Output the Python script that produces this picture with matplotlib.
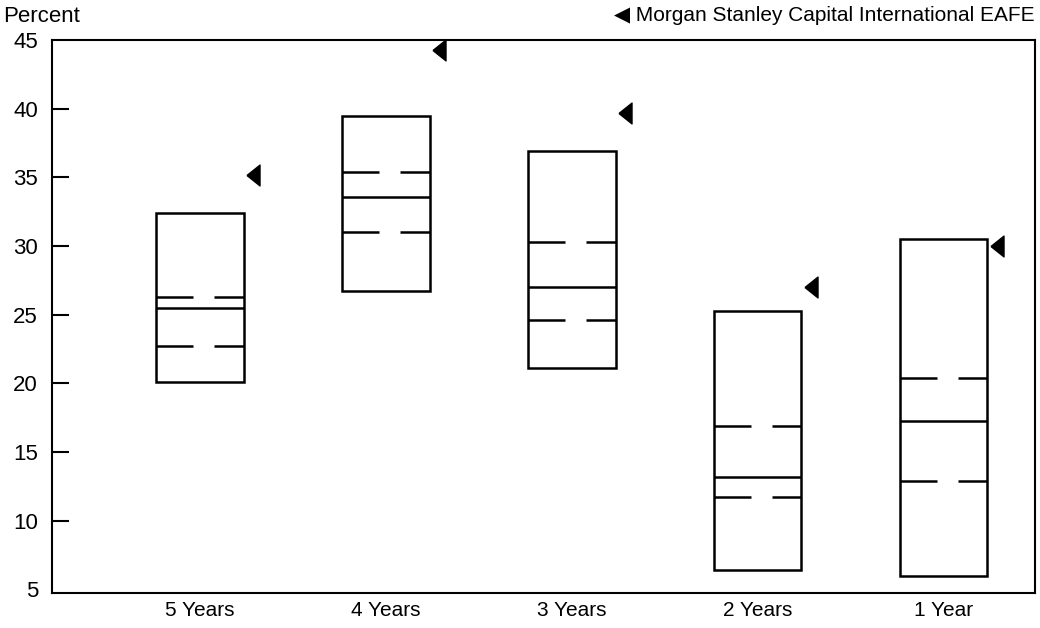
import matplotlib
matplotlib.use("Agg")
import matplotlib.pyplot as plt
from matplotlib.patches import Rectangle
import numpy as np

plt.rcParams['font.family'] = ['Liberation Sans', 'DejaVu Sans']

categories = ["5 Years", "4 Years", "3 Years", "2 Years", "1 Year"]
high = [32.4, 39.5, 36.9, 25.3, 30.5]
upper_q = [26.3, 35.4, 30.3, 16.9, 20.4]
median = [25.5, 33.6, 27.0, 13.2, 17.3]
lower_q = [22.7, 31.0, 24.6, 11.7, 12.9]
low = [20.1, 26.7, 21.1, 6.4, 6.0]
eafe = [35.2, 44.3, 39.7, 27.0, 30.0]
yticks = [5, 10, 15, 20, 25, 30, 35, 40, 45]

fig = plt.figure(figsize=(10.4, 6.28), dpi=100)
ax = fig.add_axes([0.05, 0.056, 0.945, 0.880])

x = np.arange(len(categories))
w = 0.47
lw = 1.8

for xi, hi, uq, md, lq, lo, ea in zip(x, high, upper_q, median, lower_q, low, eafe):
    x0 = xi - w / 2
    ax.add_patch(Rectangle((x0, lo), w, hi - lo, fill=False, edgecolor='black', linewidth=lw))
    ax.plot([x0, x0 + w], [md, md], color='black', linewidth=lw, solid_capstyle='butt')
    for q in (uq, lq):
        ax.plot([x0, x0 + 0.42 * w], [q, q], color='black', linewidth=lw, solid_capstyle='butt')
        ax.plot([x0 + 0.66 * w, x0 + w], [q, q], color='black', linewidth=lw, solid_capstyle='butt')

tri = [(-0.5, 0.0), (0.5, 0.8), (0.5, -0.8), (-0.5, 0.0)]
ax.plot(x + w / 2 + 0.05, eafe, linestyle='none', marker=tri, markersize=15,
        color='black')

ax.set_xlim(-0.796, 4.49)
ax.set_ylim(4.75, 45)
ax.set_yticks(yticks)
ax.set_yticklabels([str(t) for t in yticks], fontsize=16)
ax.set_xticks(x)
ax.set_xticklabels(categories, fontsize=15)
ax.tick_params(axis='y', direction='in', length=12, width=1.5, pad=10)
ax.tick_params(axis='x', length=0, pad=6)
yt = ax.yaxis.get_major_ticks()
yt[0].tick1line.set_visible(False)
yt[-1].tick1line.set_visible(False)
for s in ax.spines.values():
    s.set_linewidth(1.5)

fig.text(0.003, 0.99, "Percent", fontsize=16, ha='left', va='top')
fig.text(0.995, 0.99, "\u25c0 Morgan Stanley Capital International EAFE", fontsize=15,
         ha='right', va='top')

fig.savefig("out.png", dpi=100)
